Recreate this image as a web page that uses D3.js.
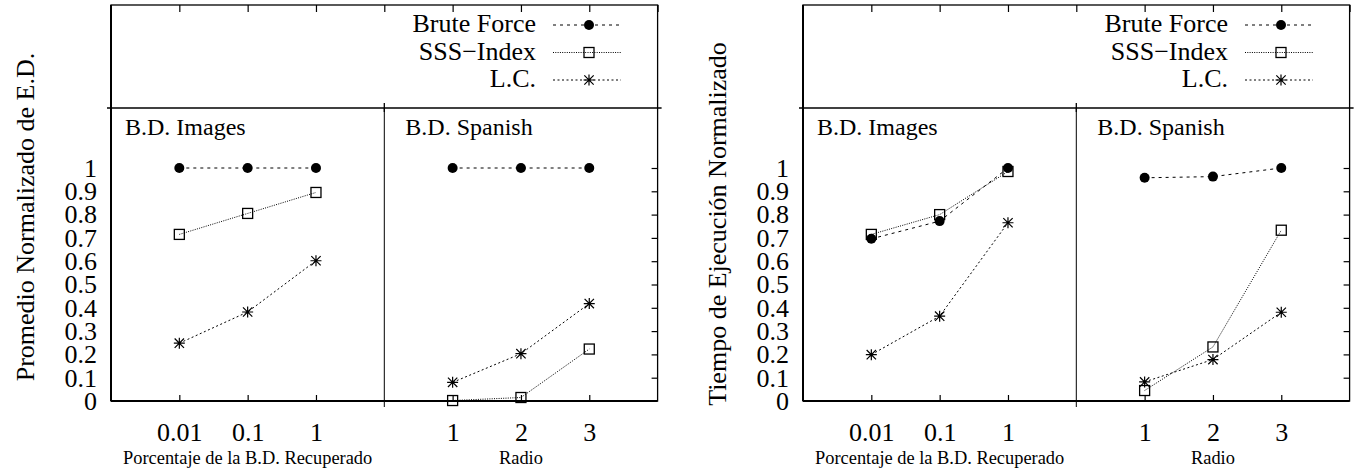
<!DOCTYPE html>
<html>
<head>
<meta charset="utf-8">
<script src="https://cdn.jsdelivr.net/npm/d3@7"></script>
<style>
  body { margin: 0; background: #fff; }
  svg { display: block; font-family: "Liberation Serif", "DejaVu Serif", serif; }
</style>
</head>
<body>
<svg id="chart" width="1361" height="473"></svg>
<script>
// categories / tick labels
var xLabelsImages = ["0.01", "0.1", "1"];
var xLabelsSpanish = ["1", "2", "3"];
var yTicks = [0, 0.1, 0.2, 0.3, 0.4, 0.5, 0.6, 0.7, 0.8, 0.9, 1];
var seriesNames = ["Brute Force", "SSS\u2212Index", "L.C."];

// chart 1: Promedio Normalizado de E.D.
var edImagesBF = [1, 1, 1];
var edImagesSSS = [0.715, 0.805, 0.895];
var edImagesLC = [0.248, 0.382, 0.602];
var edSpanishBF = [1, 1, 1];
var edSpanishSSS = [0.002, 0.015, 0.223];
var edSpanishLC = [0.08, 0.203, 0.418];

// chart 2: Tiempo de Ejecucion Normalizado
var tmImagesBF = [0.696, 0.772, 1];
var tmImagesSSS = [0.715, 0.8, 0.985];
var tmImagesLC = [0.199, 0.364, 0.765];
var tmSpanishBF = [0.958, 0.963, 1];
var tmSpanishSSS = [0.045, 0.232, 0.733];
var tmSpanishLC = [0.082, 0.178, 0.381];

var charts = [
  { left: 111, ylabel: "Promedio Normalizado de E.D.", ylabelY: 217,
    panels: [[edImagesBF, edImagesSSS, edImagesLC], [edSpanishBF, edSpanishSSS, edSpanishLC]] },
  { left: 803, ylabel: "Tiempo de Ejecución Normalizado", ylabelY: 224,
    panels: [[tmImagesBF, tmImagesSSS, tmImagesLC], [tmSpanishBF, tmSpanishSSS, tmSpanishLC]] }
];

var plotTop = 5, plotMid = 108, plotBottom = 401, subW = 273.3;
var panelTitles = ["B.D. Images", "B.D. Spanish"];
var panelXLabels = [xLabelsImages, xLabelsSpanish];
var xTitles = ["Porcentaje de la B.D. Recuperado", "Radio"];
var dashes = ["3,4", "1,1.3", "2,2.5"];

var svg = d3.select("#chart");
var y = d3.scaleLinear().domain([0, 1]).range([plotBottom, 168]);

// marker drawing
function marker(g, kind, cx, cy) {
  if (kind === 0) {
    g.append("circle").attr("cx", cx).attr("cy", cy).attr("r", 5).attr("fill", "#000");
  } else if (kind === 1) {
    g.append("rect").attr("x", cx - 5).attr("y", cy - 5).attr("width", 10).attr("height", 10)
      .attr("fill", "none").attr("stroke", "#000").attr("stroke-width", 1.3);
  } else {
    var r = 5.5;
    var p = "M" + (cx - r) + "," + cy + "H" + (cx + r) + "M" + cx + "," + (cy - r) + "V" + (cy + r) +
      "M" + (cx - r * 0.85) + "," + (cy - r * 0.85) + "L" + (cx + r * 0.85) + "," + (cy + r * 0.85) +
      "M" + (cx - r * 0.85) + "," + (cy + r * 0.85) + "L" + (cx + r * 0.85) + "," + (cy - r * 0.85);
    g.append("path").attr("d", p).attr("stroke", "#000").attr("stroke-width", 1.2).attr("fill", "none");
  }
}

charts.forEach(function (c) {
  var g = svg.append("g");
  var L = c.left, R = L + 2 * subW;

  // y label
  g.append("text")
    .attr("transform", "translate(" + (L - 77) + "," + c.ylabelY + ") rotate(-90)")
    .attr("text-anchor", "middle")
    .style("font-size", "26px")
    .text(c.ylabel);

  // y tick labels (left only)
  var yAxis = d3.axisLeft(y).tickValues(yTicks).tickSize(0).tickPadding(14)
    .tickFormat(function (d) { return d3.format("")(d); });
  g.append("g").attr("transform", "translate(" + L + ",0)").call(yAxis)
    .call(function (s) {
      s.select(".domain").remove();
      s.selectAll("text").style("font-size", "26px").style("font-family", "Liberation Serif").attr("fill", "#000");
    });

  c.panels.forEach(function (series, pi) {
    var x0 = L + pi * subW;
    var x = d3.scaleLinear().domain([0, 4]).range([x0, x0 + subW]);
    var labels = panelXLabels[pi];

    // x tick labels
    var xAxis = d3.axisBottom(x).tickValues([1, 2, 3]).tickSize(0).tickPadding(22)
      .tickFormat(function (d) { return labels[d - 1]; });
    g.append("g").attr("transform", "translate(0," + plotBottom + ")").call(xAxis)
      .call(function (s) {
        s.select(".domain").remove();
        s.selectAll("text").style("font-size", "26px").style("font-family", "Liberation Serif").attr("fill", "#000");
      });

    // inner ticks bottom (upward) and top (downward)
    var tickB = d3.axisBottom(x).tickValues([1, 2, 3]).tickSizeInner(-6).tickSizeOuter(0).tickFormat("");
    g.append("g").attr("transform", "translate(0," + plotBottom + ")").call(tickB)
      .call(function (s) { s.select(".domain").remove(); s.selectAll("line").attr("stroke-width", 1.2); });
    var tickT = d3.axisTop(x).tickValues([1, 2, 3, 4]).tickSizeInner(-7).tickSizeOuter(0).tickFormat("");
    g.append("g").attr("transform", "translate(0," + plotTop + ")").call(tickT)
      .call(function (s) { s.select(".domain").remove(); s.selectAll("line").attr("stroke-width", 1.2); });

    // x title
    g.append("text").attr("x", x(2)).attr("y", 464).attr("text-anchor", "middle")
      .style("font-size", "18.4px").text(xTitles[pi]);

    // panel title
    g.append("text").attr("x", x0 + (pi === 0 ? 14 : 21)).attr("y", 135)
      .style("font-size", "24px").text(panelTitles[pi]);

    // series
    series.forEach(function (vals, si) {
      var line = d3.line().x(function (d, i) { return x(i + 1); }).y(function (d) { return y(d); });
      g.append("path").datum(vals).attr("d", line).attr("fill", "none")
        .attr("stroke", "#000").attr("stroke-width", 1).attr("stroke-dasharray", dashes[si]);
      vals.forEach(function (v, i) { marker(g, si, x(i + 1), y(v)); });
    });
  });

  // right-edge inner ticks
  var tickR = d3.axisLeft(y).tickValues(yTicks.slice(1)).tickSizeInner(6).tickSizeOuter(0).tickFormat("");
  g.append("g").attr("transform", "translate(" + R + ",0)").call(tickR)
    .call(function (s) { s.select(".domain").remove(); s.selectAll("line").attr("stroke-width", 1.2); });

  // frame and dividers
  var Dx = L + subW;
  g.append("rect").attr("x", L).attr("y", plotTop).attr("width", R - L).attr("height", plotBottom - plotTop)
    .attr("fill", "none").attr("stroke", "#000").attr("stroke-width", 1.3);
  g.append("line").attr("x1", L).attr("x2", R).attr("y1", plotBottom).attr("y2", plotBottom)
    .attr("stroke", "#000").attr("stroke-width", 2);
  g.append("line").attr("x1", L).attr("x2", L).attr("y1", plotTop).attr("y2", plotBottom)
    .attr("stroke", "#000").attr("stroke-width", 2);
  g.append("line").attr("x1", L - 4).attr("x2", R + 4).attr("y1", plotMid).attr("y2", plotMid)
    .attr("stroke", "#000").attr("stroke-width", 1.3);
  g.append("line").attr("x1", Dx).attr("x2", Dx).attr("y1", plotMid - 5).attr("y2", plotMid + 4)
    .attr("stroke", "#000").attr("stroke-width", 1.3);
  g.append("line").attr("x1", Dx).attr("x2", Dx).attr("y1", plotMid).attr("y2", plotBottom + 6)
    .attr("stroke", "#000").attr("stroke-width", 1);

  // legend
  var lg = g.append("g");
  seriesNames.forEach(function (name, si) {
    var base = 32 + si * 27.5, ly = base - 7;
    lg.append("text").attr("x", L + 425).attr("y", base).attr("text-anchor", "end")
      .style("font-size", "26px").text(name);
    lg.append("line").attr("x1", L + 442).attr("x2", L + 510).attr("y1", ly).attr("y2", ly)
      .attr("stroke", "#000").attr("stroke-width", 1).attr("stroke-dasharray", dashes[si]);
    marker(lg, si, L + 478, ly);
  });
});
</script>
</body>
</html>
